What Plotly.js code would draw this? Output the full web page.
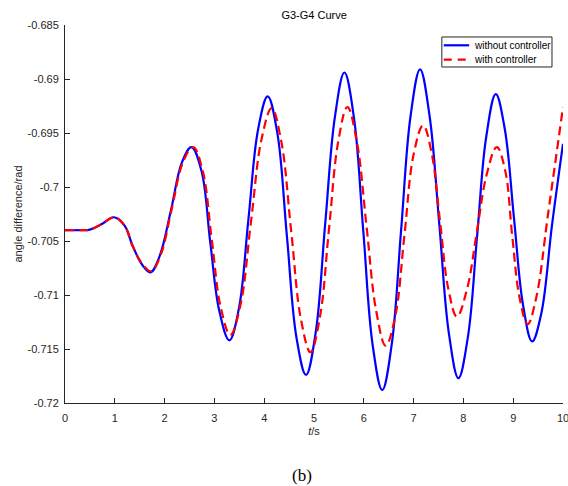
<!DOCTYPE html>
<html>
<head>
<meta charset="utf-8">
<script src="https://cdn.plot.ly/plotly-3.0.1.min.js"></script>
<style>html,body{margin:0;padding:0;background:#fff;}#chart{width:568px;height:486px;}</style>
</head>
<body>
<div id="chart"></div>
<script>
// time (s) and angle difference (rad)
const tWithout = [0, 0.3, 0.5, 0.75, 0.985, 1.2, 1.35, 1.55, 1.717, 1.9, 2.13, 2.35, 2.54, 2.74, 2.92, 3.1, 3.30, 3.49, 3.685, 3.88, 4.07, 4.26, 4.455, 4.65, 4.84, 5.03, 5.225, 5.42, 5.61, 5.80, 5.99, 6.18, 6.37, 6.56, 6.75, 6.94, 7.13, 7.32, 7.515, 7.71, 7.90, 8.09, 8.275, 8.46, 8.65, 8.83, 9.015, 9.20, 9.38, 9.56, 9.78, 10];
const yWithout = [-0.7040, -0.7040, -0.70395, -0.7034, -0.7028, -0.7036, -0.70535, -0.7072, -0.7079, -0.7064, -0.7021, -0.6977, -0.6963, -0.6985, -0.70525, -0.7115, -0.7142, -0.7113, -0.7029, -0.6946, -0.6916, -0.6949, -0.7045, -0.7140, -0.7174, -0.7136, -0.7034, -0.6935, -0.6894, -0.6935, -0.7041, -0.7147, -0.7188, -0.7146, -0.70395, -0.6934, -0.6891, -0.6934, -0.7034, -0.7136, -0.7177, -0.7139, -0.70455, -0.6953, -0.6914, -0.6946, -0.70285, -0.7110, -0.7143, -0.7118, -0.7035, -0.6960];
const tWith = [0, 0.3, 0.5, 0.75, 0.99, 1.2, 1.36, 1.55, 1.73, 1.92, 2.14, 2.37, 2.57, 2.76, 2.95, 3.13, 3.32, 3.52, 3.735, 3.95, 4.15, 4.34, 4.54, 4.74, 4.93, 5.12, 5.30, 5.49, 5.67, 5.86, 6.055, 6.25, 6.44, 6.63, 6.815, 7.0, 7.19, 7.36, 7.53, 7.70, 7.87, 8.07, 8.27, 8.47, 8.67, 8.84, 8.98, 9.13, 9.29, 9.46, 9.70, 10];
const yWith = [-0.7040, -0.7040, -0.70395, -0.7034, -0.7028, -0.7036, -0.7055, -0.7071, -0.7078, -0.7063, -0.7021, -0.6977, -0.6963, -0.6984, -0.7050, -0.7112, -0.7137, -0.7110, -0.7032, -0.6955, -0.6927, -0.6957, -0.7040, -0.7123, -0.7153, -0.7120, -0.70395, -0.6957, -0.6926, -0.6958, -0.70365, -0.7115, -0.7147, -0.7120, -0.7045, -0.6970, -0.6943, -0.6968, -0.70315, -0.7095, -0.7120, -0.7095, -0.70415, -0.6988, -0.6963, -0.6985, -0.7045, -0.7103, -0.7127, -0.7103, -0.7025, -0.6926];
const seriesNames = ["without controller", "with controller"];
const xTicks = [0, 1, 2, 3, 4, 5, 6, 7, 8, 9, 10];
const yTicks = [-0.72, -0.715, -0.71, -0.705, -0.7, -0.695, -0.69, -0.685];
const yTickText = ["-0.72", "-0.715", "-0.71", "-0.705", "-0.7", "-0.695", "-0.69", "-0.685"];

const axisColor = "#262626";
const fam = "Liberation Sans, Arial, Helvetica, sans-serif";
const baseFont = {family: fam, size: 11, color: axisColor};
const colors = ["#0000FF", "#FF0000"];
const dashes = ["solid", "9px,5px"];

const traces = [
  {x: tWithout, y: yWithout, name: seriesNames[0], type: "scatter", mode: "lines",
   line: {color: colors[0], width: 2.2, shape: "spline", smoothing: 1.1}},
  {x: tWith, y: yWith, name: seriesNames[1], type: "scatter", mode: "lines",
   line: {color: colors[1], width: 2.2, dash: dashes[1], shape: "spline", smoothing: 1.1}}
];

// legend drawn as a box in paper coordinates (MATLAB-style compact legend)
const lgX0 = 0.7567, lgX1 = 0.9779, lgY0 = 0.8889, lgY1 = 0.9683;
const rowY = [0.9463, 0.9085];
const shapes = [
  {type: "rect", xref: "paper", yref: "paper", x0: lgX0, x1: lgX1, y0: lgY0, y1: lgY1,
   line: {color: axisColor, width: 1}, fillcolor: "#fff", layer: "above"}
];
const annotations = [];
seriesNames.forEach((nm, i) => {
  shapes.push({type: "line", xref: "paper", yref: "paper", x0: 0.7605, x1: 0.8116, y0: rowY[i], y1: rowY[i],
               line: {color: colors[i], width: 2.2, dash: i === 0 ? "solid" : "8px,6px"}, layer: "above"});
  annotations.push({text: nm, xref: "paper", yref: "paper", x: 0.8175, y: rowY[i], xanchor: "left", yanchor: "middle",
                    showarrow: false, font: {family: fam, size: 10, color: "#000"}});
});
annotations.push({text: "(b)", xref: "paper", yref: "paper", x: 0.475, y: -0.192, xanchor: "center", yanchor: "middle", showarrow: false,
                  font: {family: "Liberation Serif, Times New Roman, serif", size: 17, color: "#000"}});

const layout = {
  width: 568, height: 486,
  margin: {l: 65, r: 5, t: 25, b: 83},
  paper_bgcolor: "#fff", plot_bgcolor: "#fff",
  font: baseFont,
  showlegend: false,
  title: {text: "G3-G4 Curve", font: {family: fam, size: 11, color: "#000"}, x: 0.553, xanchor: "center", y: 0.968, yanchor: "middle"},
  xaxis: {range: [0, 10], tickvals: xTicks, ticktext: xTicks.map(String), ticks: "inside", ticklen: 5, tickcolor: axisColor,
          showline: true, linecolor: axisColor, linewidth: 1, showgrid: false, zeroline: false, mirror: false, automargin: false,
          tickfont: baseFont, ticklabelstandoff: 5, ticklabeloverflow: "allow",
          title: {text: "<i>t</i>/s", font: baseFont, standoff: 4}},
  yaxis: {range: [-0.72, -0.685], tickvals: yTicks, ticktext: yTickText, ticks: "inside", ticklen: 5, tickcolor: axisColor,
          showline: true, linecolor: axisColor, linewidth: 1, showgrid: false, zeroline: false, mirror: false, automargin: false,
          tickfont: baseFont, ticklabelstandoff: 3,
          title: {text: "angle difference/rad", font: baseFont, standoff: 2}},
  shapes: shapes,
  annotations: annotations
};

Plotly.newPlot("chart", traces, layout, {displayModeBar: false, staticPlot: true});
</script>
</body>
</html>
